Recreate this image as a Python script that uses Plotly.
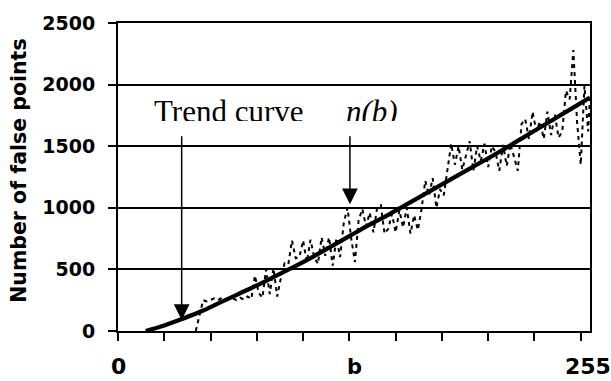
import plotly.graph_objects as go

# ---- data ----
nb_x = list(range(42, 256, 2)) + [255]
nb_y = [
    0, 120, 250, 240, 255, 265, 250, 270, 255, 260,
    265, 250, 270, 255, 280, 260, 450, 310, 270, 500,
    300, 510, 280, 430, 550, 540, 735, 590, 600, 735,
    560, 740, 600, 545, 760, 610, 760, 530, 755, 600,
    880, 1000, 750, 560, 900, 990, 850, 960, 800, 1000,
    1020, 790, 830, 950, 800, 980, 840, 1000, 790, 940,
    820, 990, 1220, 1100, 1240, 1000, 1150, 1100, 1330, 1520,
    1350, 1500, 1310, 1420, 1540, 1300, 1500, 1380, 1520, 1330,
    1500, 1450, 1300, 1510, 1340, 1520, 1420, 1300, 1680, 1720,
    1560, 1780, 1620, 1700, 1560, 1780, 1590, 1760, 1570, 1620,
    1950, 1880, 2280, 1700, 1350, 1990, 1620, 1900,
]

trend_x = [15, 25, 35, 45, 55, 65, 75, 85, 95, 105, 115, 125, 135,
           145, 155, 165, 175, 185, 195, 205, 215, 225, 235, 245, 255]
trend_y = [0, 45, 100, 160, 230, 300, 370, 445, 520, 600, 685, 770, 855,
           935, 1020, 1105, 1190, 1275, 1360, 1445, 1535, 1625, 1715, 1805, 1895]

x_tick_vals = [0, 25, 50, 75, 100, 125, 150, 175, 200, 225, 250]
y_tick_vals = [0, 500, 1000, 1500, 2000, 2500]
x_label_text = ["0", "255"]
x_label_pos = [0, 254]

# annotation anchors (data coords)
trend_arrow = dict(x=34.4, y=90, ax=34.4, ay=1592)
nb_arrow = dict(x=125.3, y=1029, ax=125.3, ay=1592)

fig = go.Figure()
fig.add_trace(go.Scatter(
    x=nb_x, y=nb_y, mode="lines",
    line=dict(color="black", width=2, dash="4px,4px"),
    showlegend=False, hoverinfo="skip",
))
fig.add_trace(go.Scatter(
    x=trend_x, y=trend_y, mode="lines", line_shape="spline",
    line=dict(color="black", width=4.2),
    showlegend=False, hoverinfo="skip",
))

annotations = []
for a in (trend_arrow, nb_arrow):
    annotations.append(dict(
        x=a["x"], y=a["y"], ax=a["ax"], ay=a["ay"], xref="x", yref="y",
        axref="x", ayref="y", text="", showarrow=True, arrowhead=2,
        arrowsize=2.1, arrowwidth=1.5, arrowcolor="black",
    ))
# text labels (clipped at the baseline as in the reference)
annotations.append(dict(
    x=18.5, y=1937, xref="x", yref="y", xanchor="left", yanchor="top",
    text="Trend curve", showarrow=False, height=27, valign="top",
    font=dict(family="Liberation Serif", size=31, color="black"),
))
annotations.append(dict(
    x=122.3, y=1937, xref="x", yref="y", xanchor="left", yanchor="top",
    text="<i>n(b)</i>", showarrow=False, height=27, valign="top",
    font=dict(family="Liberation Serif", size=31, color="black"),
))
# x tick labels
for v, t in zip(x_label_pos, x_label_text):
    annotations.append(dict(
        x=v, y=-0.115, xref="x", yref="paper",
        text=t, showarrow=False, xanchor="center", yanchor="middle",
        font=dict(family="DejaVu Sans", size=22, color="black", weight="bold"),
    ))
# x axis title
annotations.append(dict(
    x=0.5, y=-0.118, xref="paper", yref="paper", text="b", showarrow=False,
    xanchor="center", yanchor="middle",
    font=dict(family="DejaVu Sans", size=21, color="black", weight="bold"),
))
# y axis title
annotations.append(dict(
    x=-0.2097, y=0.52, xref="paper", yref="paper", text="Number of false points",
    showarrow=False, textangle=-90, xanchor="center", yanchor="middle",
    font=dict(family="DejaVu Sans", size=20.5, color="black", weight="bold"),
))

fig.update_layout(
    width=611, height=381,
    margin=dict(l=118, r=21, t=20, b=50),
    paper_bgcolor="white", plot_bgcolor="white",
    annotations=annotations,
    xaxis=dict(
        range=[0, 255], tickvals=x_tick_vals, showticklabels=False,
        ticks="outside", ticklen=8, tickwidth=2, tickcolor="black",
        showline=True, linewidth=2, linecolor="black", mirror=True,
        showgrid=False, zeroline=False,
    ),
    yaxis=dict(
        range=[0, 2500], tickvals=y_tick_vals,
        ticks="outside", ticklen=8, tickwidth=2, tickcolor="black",
        tickfont=dict(family="DejaVu Sans", size=19, color="black", weight="bold"),
        ticklabelstandoff=9,
        showline=True, linewidth=2, linecolor="black", mirror=True,
        showgrid=True, gridcolor="black", gridwidth=2, zeroline=False,
    ),
)

fig.write_html("out.html")
